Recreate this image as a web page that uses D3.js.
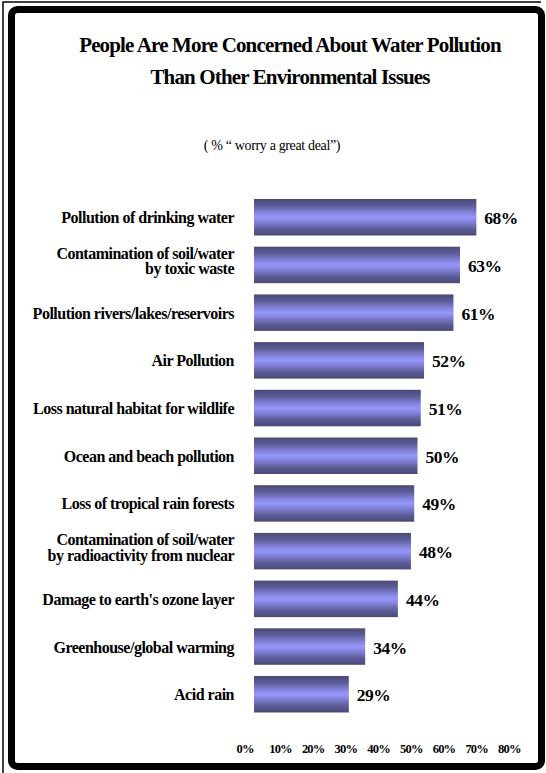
<!DOCTYPE html>
<html>
<head>
<meta charset="utf-8">
<script src="https://cdn.jsdelivr.net/npm/d3@7"></script>
<style>
  html, body { margin: 0; padding: 0; background: #fff; }
  svg { display: block; }
</style>
</head>
<body>
<svg id="chart" width="546" height="773"></svg>
<script>
// ---- data ----
const categories = [
  "Pollution of drinking water",
  "Contamination of soil/water\nby toxic waste",
  "Pollution rivers/lakes/reservoirs",
  "Air Pollution",
  "Loss natural habitat for wildlife",
  "Ocean and beach pollution",
  "Loss of tropical rain forests",
  "Contamination of soil/water\nby radioactivity from nuclear",
  "Damage to earth's ozone layer",
  "Greenhouse/global warming",
  "Acid rain"
];
const values = [68, 63, 61, 52, 51, 50, 49, 48, 44, 34, 29];
const tickValues = [0, 10, 20, 30, 40, 50, 60, 70, 80];
const titleLines = ["People Are More Concerned About Water Pollution", "Than Other Environmental Issues"];
const subtitle = "( % \u201C worry a great deal\u201D)";

const FONT = "'Liberation Serif', 'Times New Roman', Tinos, 'DejaVu Serif', serif";

// ---- drawing ----
const svg = d3.select("#chart").attr("font-family", FONT);

// outer thin frame lines (left & top)
svg.append("path")
  .attr("d", "M3,773 L3,2 L541,2")
  .attr("fill", "none").attr("stroke", "#000").attr("stroke-width", 1.5);

// thick rounded frame
svg.append("rect")
  .attr("x", 11.5).attr("y", 9.5)
  .attr("width", 530).attr("height", 757)
  .attr("rx", 6).attr("ry", 6)
  .attr("fill", "#fff").attr("stroke", "#000").attr("stroke-width", 7);

// gradient for bars
const defs = svg.append("defs");
const grad = defs.append("linearGradient")
  .attr("id", "barGrad").attr("x1", 0).attr("y1", 0).attr("x2", 0).attr("y2", 1);
[[0, "#4a4a76"], [0.18, "#5c5c98"], [0.38, "#8484dc"], [0.5, "#9696fc"], [0.62, "#8484dc"], [0.82, "#5c5c98"], [1, "#4a4a76"]]
  .forEach(([o, c]) => grad.append("stop").attr("offset", o).attr("stop-color", c));

// title
svg.append("g").selectAll("text").data(titleLines).join("text")
  .attr("x", 290)
  .attr("y", (d, i) => 52 + i * 32)
  .attr("text-anchor", "middle")
  .attr("font-family", FONT)
  .attr("font-size", 21)
  .attr("font-weight", "bold")
  .attr("letter-spacing", -0.85)
  .text(d => d);

svg.append("text")
  .attr("x", 272).attr("y", 150)
  .attr("text-anchor", "middle")
  .attr("font-family", FONT)
  .attr("font-size", 14)
  .attr("letter-spacing", -0.35)
  .text(subtitle);

// scales
const x = d3.scaleLinear().domain([0, 80]).range([254, 515.6]);
const y = d3.scaleBand().domain(categories).range([199, 712.5]).paddingInner(0.235).paddingOuter(0);

// bars
svg.append("g").selectAll("rect").data(values).join("rect")
  .attr("x", x(0))
  .attr("y", (d, i) => y(categories[i]))
  .attr("width", d => x(d) - x(0))
  .attr("height", y.bandwidth())
  .attr("fill", "url(#barGrad)");

// value labels
svg.append("g").selectAll("text").data(values).join("text")
  .attr("x", d => x(d) + 8)
  .attr("y", (d, i) => y(categories[i]) + y.bandwidth() / 2 + 7)
  .attr("font-family", FONT)
  .attr("font-size", 17.5)
  .attr("font-weight", "bold")
  .attr("letter-spacing", -0.5)
  .text(d => d + "%");

// category labels
const catG = svg.append("g");
categories.forEach(c => {
  const lines = c.split("\n");
  const cy = y(c) + y.bandwidth() / 2;
  const t = catG.append("text")
    .attr("text-anchor", "end")
    .attr("font-family", FONT)
    .attr("font-size", 16)
    .attr("font-weight", "bold")
    .attr("letter-spacing", -0.5);
  lines.forEach((ln, j) => {
    const base = lines.length === 1 ? cy + 6 : cy - 6 + j * 15.5;
    t.append("tspan").attr("x", 234).attr("y", base).text(ln);
  });
});

// x axis tick labels
const axis = d3.axisBottom(x).tickValues(tickValues).tickFormat(d => d + "%").tickSize(0);
const ax = svg.append("g").attr("transform", "translate(-18,753)").call(axis);
ax.attr("font-family", FONT);
ax.select(".domain").remove();
ax.selectAll("text")
  .attr("y", 0).attr("dy", null)
  .attr("text-anchor", "start")
  .attr("font-size", 12.5)
  .attr("font-weight", "bold")
  .attr("letter-spacing", -0.8)
  .attr("fill", "#000");
</script>
</body>
</html>
